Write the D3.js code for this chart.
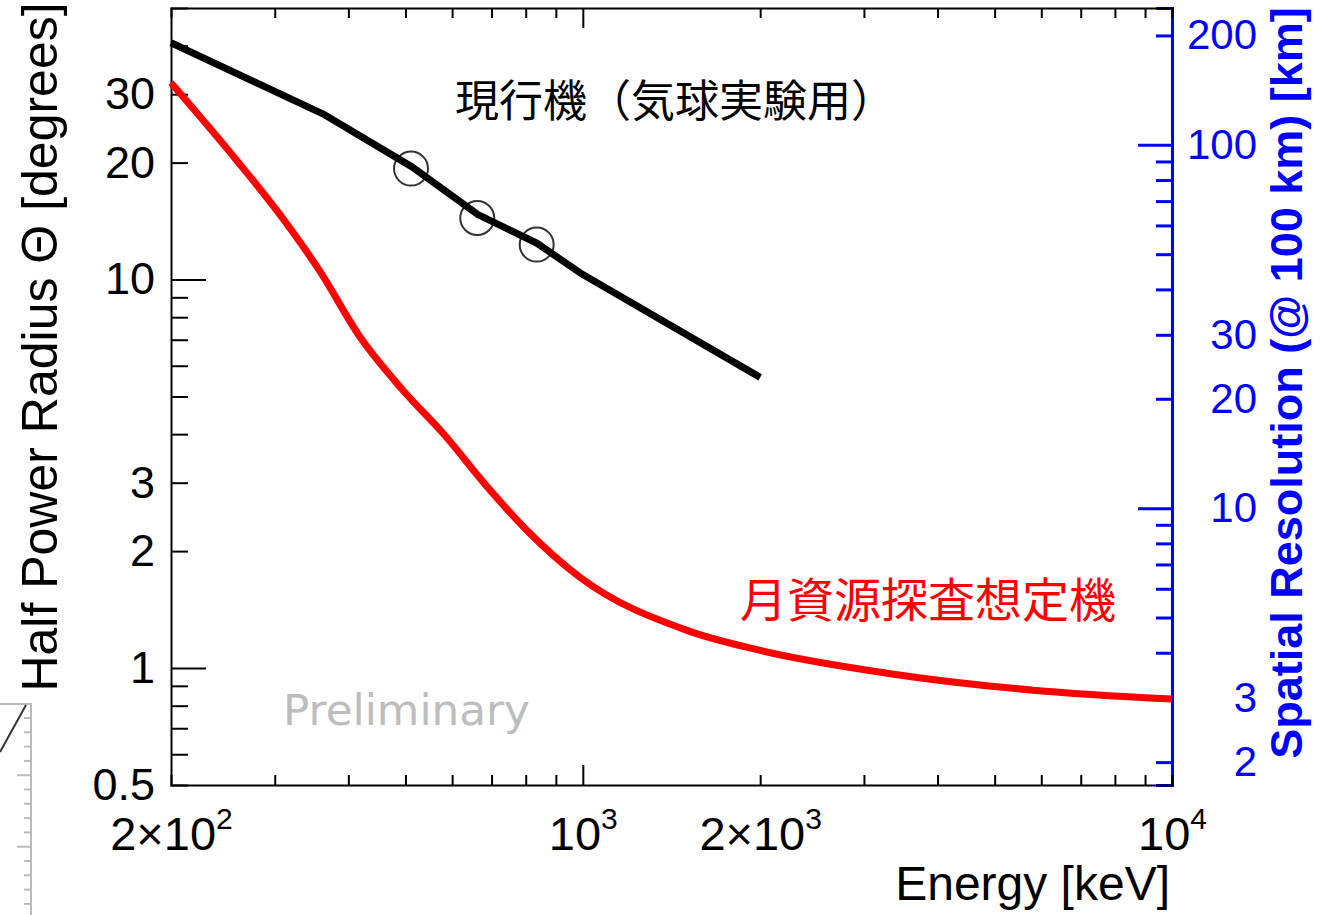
<!DOCTYPE html>
<html>
<head>
<meta charset="utf-8">
<script src="https://cdn.jsdelivr.net/npm/d3@7"></script>
<style>
  body { margin: 0; background: #fff; }
  svg { display: block; }
</style>
</head>
<body>
<svg id="chart" width="1326" height="915"></svg>
<script>
// 現行機 (balloon) HPR curve
const balloonEnergy = [200, 362, 513, 664, 836, 990, 2000];
const balloonHpr    = [40.7, 26.7, 19.5, 14.7, 12.4, 10.4, 5.6];
// measured points (511, 662, 835 keV lines)
const measEnergy = [511, 662, 835];
const measHpr    = [19.3, 14.4, 12.3];
// 月資源探査想定機 curve
const lunarEnergy = [200, 259, 303, 358, 419, 495, 579, 696, 804, 990, 1502, 2000, 3280, 5810, 10000];
const lunarHpr    = [32.1, 20.2, 15.0, 10.5, 7.10, 5.19, 4.02, 2.87, 2.26, 1.71, 1.25, 1.11, 0.97, 0.877, 0.832];

// ticks
const xMinor = [300, 400, 500, 600, 700, 800, 900, 2000, 3000, 4000, 5000, 6000, 7000, 8000, 9000];
const xMajor = [1000];
const xLabelVals = [200, 1000, 2000, 10000];
const xLabelMant = ['2\u00d710', '10', '2\u00d710', '10'];
const xLabelExp  = ['2', '3', '3', '4'];
const yMinorL = [0.6, 0.7, 0.8, 0.9, 2, 3, 4, 5, 6, 7, 8, 9, 20, 30, 40];
const yMajorL = [1, 10];
const yLabelL = [0.5, 1, 2, 3, 10, 20, 30];
const yMinorR = [2, 3, 4, 5, 6, 7, 8, 9, 20, 30, 40, 50, 60, 70, 80, 90, 200];
const yMajorR = [10, 100];
const yLabelR = [2, 3, 10, 20, 30, 100, 200];

const FONT = '"Liberation Sans", Arial, Helvetica, sans-serif';
const CJK = '"Noto Sans CJK JP", "Noto Sans CJK SC", sans-serif';
const BLUE = '#0000ff', RED = '#ff0000';

const svg = d3.select('#chart');
const L = 171, R = 1172, T = 8, B = 785;

const x = d3.scaleLog().domain([200, 10000]).range([L, R]);
const y = d3.scaleLog().domain([0.5, 50]).range([B, T]);
const yR = d3.scaleLog().domain([1.73, 238]).range([B, T]);   // right axis drawn separately, own log scale

const uniq = function (a) { return Array.from(new Set(a)).sort(function (p, q) { return p - q; }); };

// left axis
const gL = svg.append('g').attr('transform', 'translate(' + L + ',0)')
  .call(d3.axisLeft(y).tickValues(uniq(yMinorL.concat(yMajorL, yLabelL)))
    .tickSizeOuter(0).tickSize(-17).tickPadding(16)
    .tickFormat(function (d) { return yLabelL.indexOf(d) >= 0 ? String(d) : ''; }))
  .attr('font-family', FONT).attr('font-size', 45);
gL.select('.domain').attr('stroke', '#000').attr('stroke-width', 2);
gL.selectAll('.tick line').attr('stroke', '#000').attr('stroke-width', 2)
  .attr('x2', function (d) { return yMajorL.indexOf(d) >= 0 ? 35 : (d === 0.5 ? 0 : 17); });
gL.selectAll('.tick text').attr('fill', '#000');

// right axis (blue)
const gR = svg.append('g').attr('transform', 'translate(' + R + ',0)')
  .call(d3.axisRight(yR).tickValues(uniq(yMinorR.concat(yMajorR, yLabelR)))
    .tickSizeOuter(0).tickSize(-16).tickPadding(85)
    .tickFormat(function (d) { return yLabelR.indexOf(d) >= 0 ? String(d) : ''; }))
  .attr('font-family', FONT).attr('font-size', 42);
gR.selectAll('.tick line').attr('stroke', BLUE).attr('stroke-width', 3)
  .attr('x2', function (d) { return yMajorR.indexOf(d) >= 0 ? -34 : -16; });
gR.selectAll('.tick text').attr('fill', BLUE).attr('text-anchor', 'end');

// top axis
const gT = svg.append('g').attr('transform', 'translate(0,' + T + ')')
  .call(d3.axisTop(x).tickValues(xMinor.concat(xMajor)).tickSizeOuter(0).tickSize(-10).tickFormat(''));
gT.select('.domain').attr('stroke', '#000').attr('stroke-width', 2);
gT.selectAll('.tick line').attr('stroke', '#000').attr('stroke-width', 2)
  .attr('y2', function (d) { return xMajor.indexOf(d) >= 0 ? 20 : 10; });

// bottom axis
const gB = svg.append('g').attr('transform', 'translate(0,' + B + ')')
  .call(d3.axisBottom(x).tickValues(uniq(xMinor.concat(xMajor, xLabelVals))).tickSizeOuter(0).tickSize(-10).tickFormat(''));
gB.select('.domain').attr('stroke', '#000').attr('stroke-width', 2);
gB.selectAll('.tick line').attr('stroke', '#000').attr('stroke-width', 2)
  .attr('y2', function (d) {
    if (d === 200 || d === 10000) return 0;
    return xMajor.indexOf(d) >= 0 ? -20 : -10;
  });
gB.selectAll('.tick').filter(function (d) { return xLabelVals.indexOf(d) >= 0; })
  .each(function (d) {
    const i = xLabelVals.indexOf(d);
    const t = d3.select(this).append('text').attr('y', 65).attr('text-anchor', 'middle')
      .attr('font-family', FONT).attr('font-size', 47).attr('fill', '#000');
    t.append('tspan').text(xLabelMant[i]);
    t.append('tspan').attr('dy', -21).attr('font-size', 30).text(xLabelExp[i]);
  });

// right axis spine on top of the frame
gR.select('.domain').attr('stroke', BLUE).attr('stroke-width', 3).raise();

// data
const line = d3.line().x(function (d) { return x(d[0]); }).y(function (d) { return y(d[1]); });

svg.append('g').selectAll('circle').data(d3.zip(measEnergy, measHpr)).join('circle')
  .attr('cx', function (d) { return x(d[0]); }).attr('cy', function (d) { return y(d[1]); })
  .attr('r', 17).attr('fill', 'none').attr('stroke', '#333').attr('stroke-width', 2);

svg.append('path').datum(d3.zip(balloonEnergy, balloonHpr)).attr('d', line)
  .attr('fill', 'none').attr('stroke', '#000').attr('stroke-width', 7).attr('stroke-linejoin', 'round');

svg.append('path').datum(d3.zip(lunarEnergy, lunarHpr)).attr('d', line.curve(d3.curveMonotoneX))
  .attr('fill', 'none').attr('stroke', RED).attr('stroke-width', 7).attr('stroke-linejoin', 'round');

// titles
svg.append('text').attr('transform', 'translate(57,347) rotate(-90)').attr('text-anchor', 'middle')
  .attr('font-family', FONT).attr('font-size', 50).attr('fill', '#000')
  .text('Half Power Radius \u0398 [degrees]');
svg.append('text').attr('transform', 'translate(1302,383) rotate(-90)').attr('text-anchor', 'middle')
  .attr('font-family', FONT).attr('font-size', 45).attr('font-weight', 'bold').attr('fill', BLUE)
  .text('Spatial Resolution (@ 100 km) [km]');
svg.append('text').attr('x', 1170).attr('y', 900).attr('text-anchor', 'end')
  .attr('font-family', FONT).attr('font-size', 48).attr('fill', '#000')
  .text('Energy [keV]');

// annotations
svg.append('text').attr('x', 455).attr('y', 117).attr('font-family', CJK).attr('font-size', 44)
  .attr('fill', '#000').text('現行機（気球実験用）');
svg.append('text').attr('x', 740).attr('y', 617).attr('font-family', CJK).attr('font-size', 47)
  .attr('fill', RED).text('月資源探査想定機');
svg.append('text').attr('x', 283).attr('y', 725).attr('font-family', '"DejaVu Sans", sans-serif')
  .attr('font-size', 42).attr('textLength', 247).attr('lengthAdjust', 'spacingAndGlyphs')
  .attr('fill', '#bdbdbd').text('Preliminary');

// bit of the neighbouring slide figure at the lower-left edge
const edge = svg.append('g').attr('stroke', '#bbb').attr('stroke-width', 2);
edge.append('line').attr('x1', 31).attr('x2', 31).attr('y1', 703).attr('y2', 915);
edge.append('line').attr('x1', 0).attr('x2', 31).attr('y1', 704).attr('y2', 704);
edge.selectAll('line.tk').data(d3.range(14)).join('line').attr('class', 'tk')
  .attr('x1', function (i) { return i % 5 === 4 ? 17 : 24; }).attr('x2', 31)
  .attr('y1', function (i) { return 718 + i * 14.3; }).attr('y2', function (i) { return 718 + i * 14.3; });
svg.append('line').attr('x1', 26).attr('y1', 705).attr('x2', 0).attr('y2', 752)
  .attr('stroke', '#333').attr('stroke-width', 2);
</script>
</body>
</html>
